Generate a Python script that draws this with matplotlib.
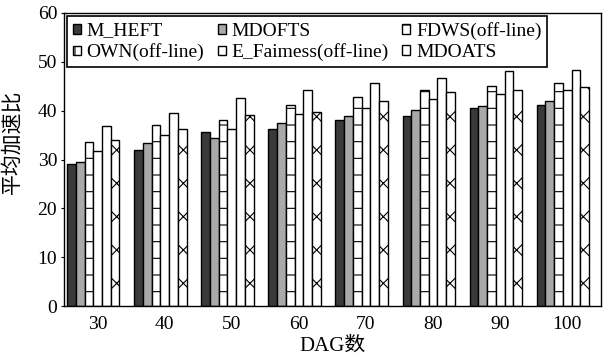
import numpy as np
import matplotlib
matplotlib.use("Agg")
import matplotlib.pyplot as plt

plt.rcParams["font.family"] = ["Liberation Serif", "Noto Sans CJK SC"]
plt.rcParams["hatch.linewidth"] = 0.8

# ── Data ──────────────────────────────────────────────────────────────────────
DAG_COUNTS = ["30", "40", "50", "60", "70", "80", "90", "100"]
SERIES     = ["M_HEFT", "MDOFTS", "FDWS(off-line)", "OWN(off-line)",
              "E_Faimess(off-line)", "MDOATS"]

m_heft     = [29.0, 31.9, 35.6, 36.3, 38.2, 38.9, 40.6, 41.2]
mdofts     = [29.4, 33.3, 34.4, 37.5, 38.9, 40.1, 40.9, 41.9]
fdws       = [33.5, 37.0, 38.2, 41.2, 42.8, 44.3, 45.0, 45.7]
own        = [31.7, 35.1, 36.3, 39.3, 40.6, 42.3, 43.5, 44.2]
e_fairness = [36.8, 39.6, 42.5, 44.2, 45.7, 46.7, 48.2, 48.4]
mdoats     = [34.0, 36.3, 39.2, 39.7, 42.0, 43.8, 44.2, 44.8]

VALUES  = [m_heft, mdofts, fdws, own, e_fairness, mdoats]
FACES   = ["#3a3a3a", "#a9a9a9", "white", "white", "white", "white"]
HATCHES = [None, None, "-", "|", None, "x"]

# ── Plot ──────────────────────────────────────────────────────────────────────
fig = plt.figure(figsize=(6.05, 3.61), dpi=100)
ax  = fig.add_axes([0.106, 0.152, 0.887, 0.812])

x       = np.arange(1, len(DAG_COUNTS) + 1)
n_slots = 7
width   = 0.13

bars = []
for i, (name, vals) in enumerate(zip(SERIES, VALUES)):
    offset = (i - (n_slots - 1) / 2) * width
    b = ax.bar(x + offset, vals, width, label=name, color=FACES[i],
               edgecolor="black", linewidth=1.0, hatch=HATCHES[i])
    bars.append(b)

ax.set_xlim(0.5, 8.5)
ax.set_ylim(0, 60)
ax.set_xticks(x)
ax.set_xticklabels(DAG_COUNTS)
ax.set_yticks(range(0, 61, 10))
ax.tick_params(axis="both", labelsize=14, length=2, width=0.8, pad=3)
ax.tick_params(axis="x", length=0, pad=7)

ax.set_xlabel("DAG数", fontsize=15, labelpad=3)
ax.set_ylabel("平均加速比", fontsize=15)
ax.yaxis.set_label_coords(-0.077, 0.56)

for sp in ax.spines.values():
    sp.set_linewidth(1.0)

# legend fills row by row (2 rows x 3 cols)
order = [0, 3, 1, 4, 2, 5]
leg = ax.legend([bars[k] for k in order], [SERIES[k] for k in order],
                loc="upper left", ncol=3, fontsize=14, frameon=True,
                fancybox=False, edgecolor="black", framealpha=1,
                handlelength=0.4, handleheight=0.4, handletextpad=0.3,
                columnspacing=0.7, borderpad=0.3, labelspacing=0.2,
                borderaxespad=0.15)
leg.get_frame().set_linewidth(1.2)

fig.savefig("out.png", dpi=100)
